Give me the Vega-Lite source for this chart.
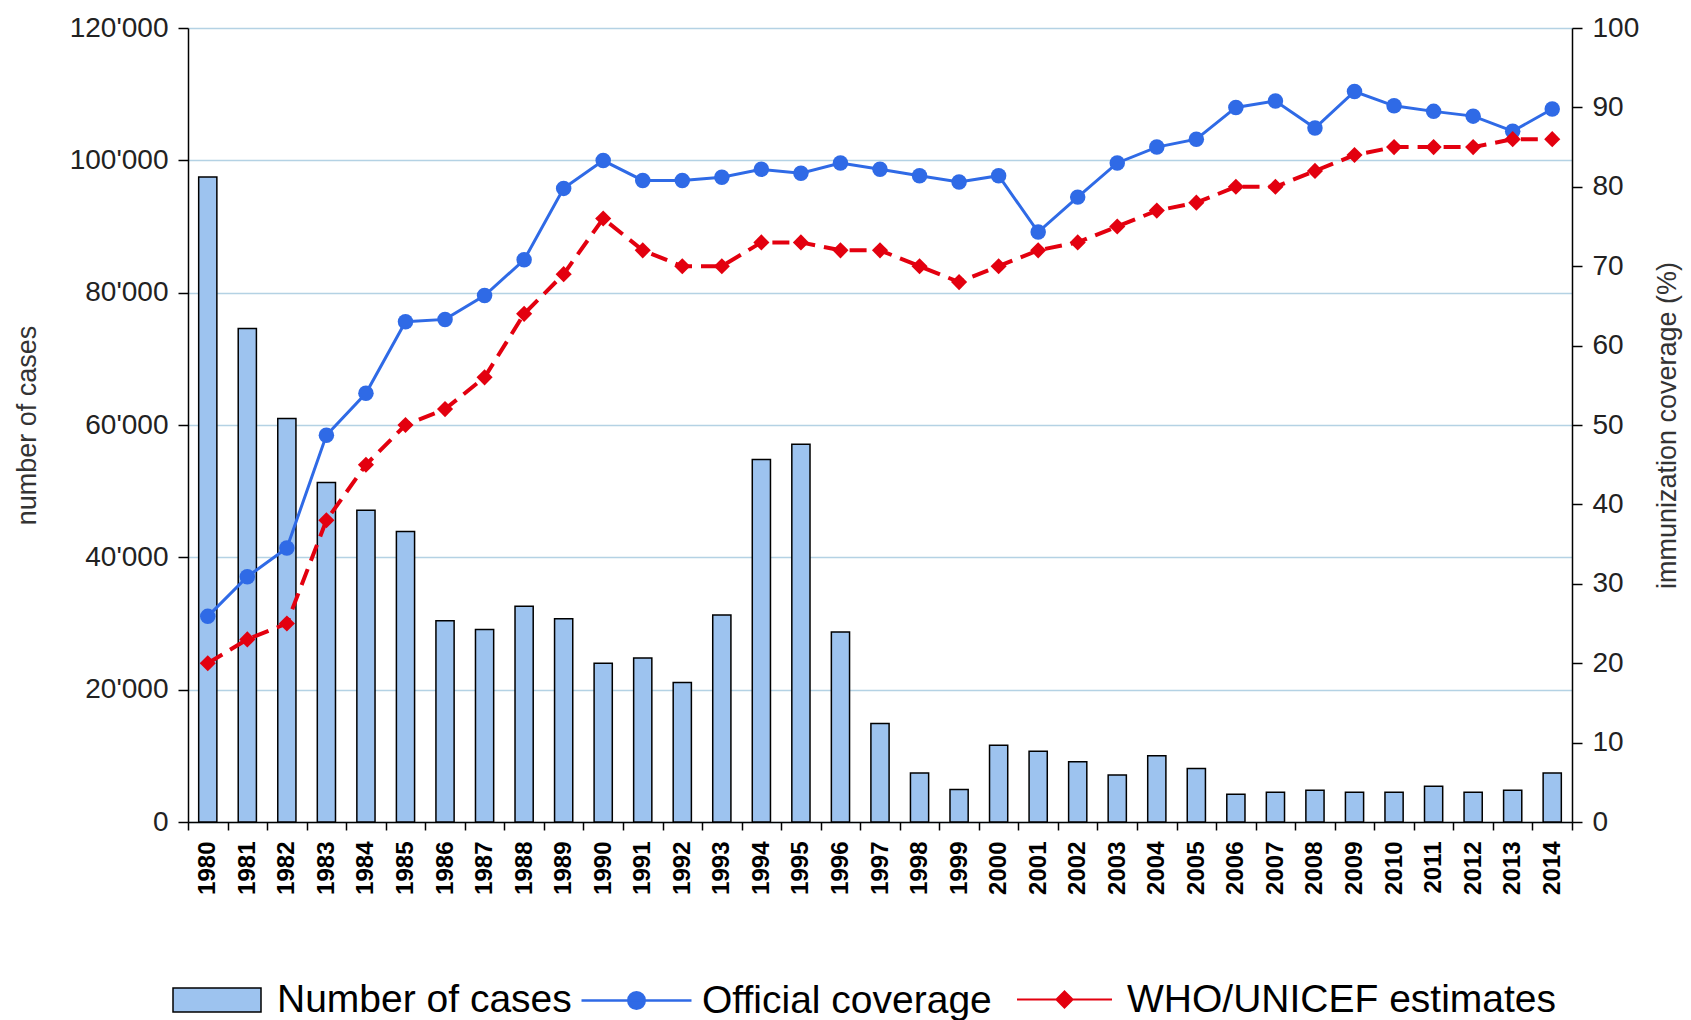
{
  "$schema": "https://vega.github.io/schema/vega-lite/v6.json",
  "width": 1384,
  "height": 794,
  "autosize": {"type": "none"},
  "padding": {"left": 188, "top": 28, "right": 119, "bottom": 198},
  "background": "white",
  "config": {
    "font": "Liberation Sans",
    "view": {"stroke": null},
    "legend": {"padding": 0, "labelFont": "Liberation Sans", "labelColor": "black", "labelLimit": 0}
  },
  "data": {
    "values": [
      {"year": "1980", "cases": 97500, "official": 25.9, "who": 20},
      {"year": "1981", "cases": 74600, "official": 30.9, "who": 23},
      {"year": "1982", "cases": 61000, "official": 34.5, "who": 25},
      {"year": "1983", "cases": 51300, "official": 48.7, "who": 38},
      {"year": "1984", "cases": 47100, "official": 54, "who": 45},
      {"year": "1985", "cases": 43900, "official": 63, "who": 50},
      {"year": "1986", "cases": 30400, "official": 63.3, "who": 52},
      {"year": "1987", "cases": 29100, "official": 66.3, "who": 56},
      {"year": "1988", "cases": 32600, "official": 70.8, "who": 64},
      {"year": "1989", "cases": 30700, "official": 79.8, "who": 69},
      {"year": "1990", "cases": 24000, "official": 83.3, "who": 76},
      {"year": "1991", "cases": 24800, "official": 80.8, "who": 72},
      {"year": "1992", "cases": 21100, "official": 80.8, "who": 70},
      {"year": "1993", "cases": 31300, "official": 81.2, "who": 70},
      {"year": "1994", "cases": 54800, "official": 82.2, "who": 73},
      {"year": "1995", "cases": 57100, "official": 81.7, "who": 73},
      {"year": "1996", "cases": 28700, "official": 83, "who": 72},
      {"year": "1997", "cases": 14900, "official": 82.2, "who": 72},
      {"year": "1998", "cases": 7400, "official": 81.4, "who": 70},
      {"year": "1999", "cases": 4900, "official": 80.6, "who": 68},
      {"year": "2000", "cases": 11600, "official": 81.4, "who": 70},
      {"year": "2001", "cases": 10700, "official": 74.3, "who": 72},
      {"year": "2002", "cases": 9100, "official": 78.7, "who": 73},
      {"year": "2003", "cases": 7100, "official": 83, "who": 75},
      {"year": "2004", "cases": 10000, "official": 85, "who": 77},
      {"year": "2005", "cases": 8100, "official": 86, "who": 78},
      {"year": "2006", "cases": 4200, "official": 90, "who": 80},
      {"year": "2007", "cases": 4500, "official": 90.8, "who": 80},
      {"year": "2008", "cases": 4800, "official": 87.4, "who": 82},
      {"year": "2009", "cases": 4500, "official": 92, "who": 84},
      {"year": "2010", "cases": 4500, "official": 90.2, "who": 85},
      {"year": "2011", "cases": 5400, "official": 89.5, "who": 85},
      {"year": "2012", "cases": 4500, "official": 88.9, "who": 85},
      {"year": "2013", "cases": 4800, "official": 87, "who": 86},
      {"year": "2014", "cases": 7400, "official": 89.8, "who": 86}
    ]
  },
  "encoding": {
    "x": {
      "field": "year",
      "type": "ordinal",
      "scale": {"paddingInner": 0, "paddingOuter": 0},
      "axis": {
        "title": null,
        "labelAngle": -90,
        "labelFontWeight": "bold",
        "labelFontSize": 24,
        "labelColor": "black",
        "labelPadding": 11,
        "tickSize": 8,
        "tickColor": "black",
        "tickWidth": 1.5,
        "domainColor": "black",
        "domainWidth": 1.5,
        "tickBand": "extent",
        "grid": false
      }
    }
  },
  "layer": [
    {
      "mark": {"type": "bar", "width": {"band": 0.46}, "stroke": "black", "strokeWidth": 1.5},
      "encoding": {
        "y": {
          "field": "cases",
          "type": "quantitative",
          "scale": {"domain": [0, 120000], "nice": false},
          "axis": {
            "title": "number of cases",
            "values": [0, 20000, 40000, 60000, 80000, 100000, 120000],
            "labelExpr": "replace(format(datum.value, ','), ',', \"'\")",
            "labelFontSize": 28,
            "labelColor": "#222222",
            "labelPadding": 10,
            "tickSize": 10,
            "tickColor": "black",
            "tickWidth": 1.5,
            "domainColor": "black",
            "domainWidth": 1.5,
            "grid": true,
            "gridColor": "#b4d2e4",
            "gridWidth": 1.5,
            "titleFontSize": 27,
            "titleFontWeight": "normal",
            "titleColor": "#333333",
            "titlePadding": 28
          }
        },
        "fill": {
          "datum": "Number of cases",
          "type": "nominal",
          "scale": {"range": ["#9dc3ef"]},
          "legend": {
            "title": null,
            "orient": "none",
            "legendX": -16,
            "legendY": 927,
            "symbolType": "M-1,-0.2727H1V0.2727H-1Z",
            "symbolSize": 7744,
            "symbolStrokeColor": "black",
            "symbolStrokeWidth": 1.5,
            "labelFontSize": 39,
            "labelOffset": 15
          }
        }
      }
    },
    {
      "layer": [
        {
          "mark": {"type": "line", "strokeWidth": 3},
          "encoding": {
            "y": {
              "field": "official",
              "type": "quantitative",
              "title": "immunization coverage (%)",
              "scale": {"domain": [0, 100], "nice": false},
              "axis": {
                "orient": "right",
                "values": [0, 10, 20, 30, 40, 50, 60, 70, 80, 90, 100],
                "labelFontSize": 28,
                "labelColor": "#222222",
                "labelPadding": 10,
                "tickSize": 10,
                "tickColor": "black",
                "tickWidth": 1.5,
                "domainColor": "black",
                "domainWidth": 1.5,
                "grid": false,
                "titleFontSize": 27,
                "titleFontWeight": "normal",
                "titleColor": "#333333",
                "titleAngle": 270,
                "titleBaseline": "top",
                "titlePadding": 16
              }
            },
            "stroke": {
              "datum": "Official coverage",
              "type": "nominal",
              "scale": {"range": ["#2f6ae6"]},
              "legend": {
                "title": null,
                "orient": "none",
                "legendX": 392,
                "legendY": 916,
                "symbolType": "M-1,0H1M-0.15,0A0.15,0.15 0 1,1 0.15,0A0.15,0.15 0 1,1 -0.15,0Z",
                "symbolSize": 12100,
                "symbolFillColor": "#2f6ae6",
                "symbolStrokeWidth": 2.5,
                "labelFontSize": 39,
                "labelOffset": 9
              }
            }
          }
        },
        {
          "mark": {"type": "point", "shape": "circle", "filled": true, "size": 240, "color": "#2f6ae6", "opacity": 1},
          "encoding": {
            "y": {
              "field": "official",
              "type": "quantitative",
              "title": "immunization coverage (%)",
              "scale": {"domain": [0, 100], "nice": false},
              "axis": {
                "orient": "right",
                "values": [0, 10, 20, 30, 40, 50, 60, 70, 80, 90, 100],
                "labelFontSize": 28,
                "labelColor": "#222222",
                "labelPadding": 10,
                "tickSize": 10,
                "tickColor": "black",
                "tickWidth": 1.5,
                "domainColor": "black",
                "domainWidth": 1.5,
                "grid": false,
                "titleFontSize": 27,
                "titleFontWeight": "normal",
                "titleColor": "#333333",
                "titleAngle": 270,
                "titleBaseline": "top",
                "titlePadding": 16
              }
            }
          }
        },
        {
          "mark": {"type": "line", "strokeWidth": 4, "strokeDash": [17, 9]},
          "encoding": {
            "y": {
              "field": "who",
              "type": "quantitative",
              "title": "immunization coverage (%)",
              "scale": {"domain": [0, 100], "nice": false},
              "axis": {
                "orient": "right",
                "values": [0, 10, 20, 30, 40, 50, 60, 70, 80, 90, 100],
                "labelFontSize": 28,
                "labelColor": "#222222",
                "labelPadding": 10,
                "tickSize": 10,
                "tickColor": "black",
                "tickWidth": 1.5,
                "domainColor": "black",
                "domainWidth": 1.5,
                "grid": false,
                "titleFontSize": 27,
                "titleFontWeight": "normal",
                "titleColor": "#333333",
                "titleAngle": 270,
                "titleBaseline": "top",
                "titlePadding": 16
              }
            },
            "color": {
              "datum": "WHO/UNICEF estimates",
              "type": "nominal",
              "scale": {"range": ["#e3000f"]},
              "legend": {
                "title": null,
                "orient": "none",
                "legendX": 828,
                "legendY": 923,
                "symbolType": "M-1,0H1M0,-0.17L0.17,0L0,0.17L-0.17,0Z",
                "symbolSize": 9025,
                "symbolFillColor": "#e3000f",
                "symbolStrokeWidth": 2,
                "symbolDash": [],
                "labelFontSize": 39,
                "labelOffset": 14
              }
            }
          }
        },
        {
          "mark": {"type": "point", "shape": "diamond", "filled": true, "size": 260, "color": "#e3000f", "opacity": 1},
          "encoding": {
            "y": {
              "field": "who",
              "type": "quantitative",
              "title": "immunization coverage (%)",
              "scale": {"domain": [0, 100], "nice": false},
              "axis": {
                "orient": "right",
                "values": [0, 10, 20, 30, 40, 50, 60, 70, 80, 90, 100],
                "labelFontSize": 28,
                "labelColor": "#222222",
                "labelPadding": 10,
                "tickSize": 10,
                "tickColor": "black",
                "tickWidth": 1.5,
                "domainColor": "black",
                "domainWidth": 1.5,
                "grid": false,
                "titleFontSize": 27,
                "titleFontWeight": "normal",
                "titleColor": "#333333",
                "titleAngle": 270,
                "titleBaseline": "top",
                "titlePadding": 16
              }
            }
          }
        }
      ]
    }
  ],
  "resolve": {"scale": {"y": "independent"}}
}
